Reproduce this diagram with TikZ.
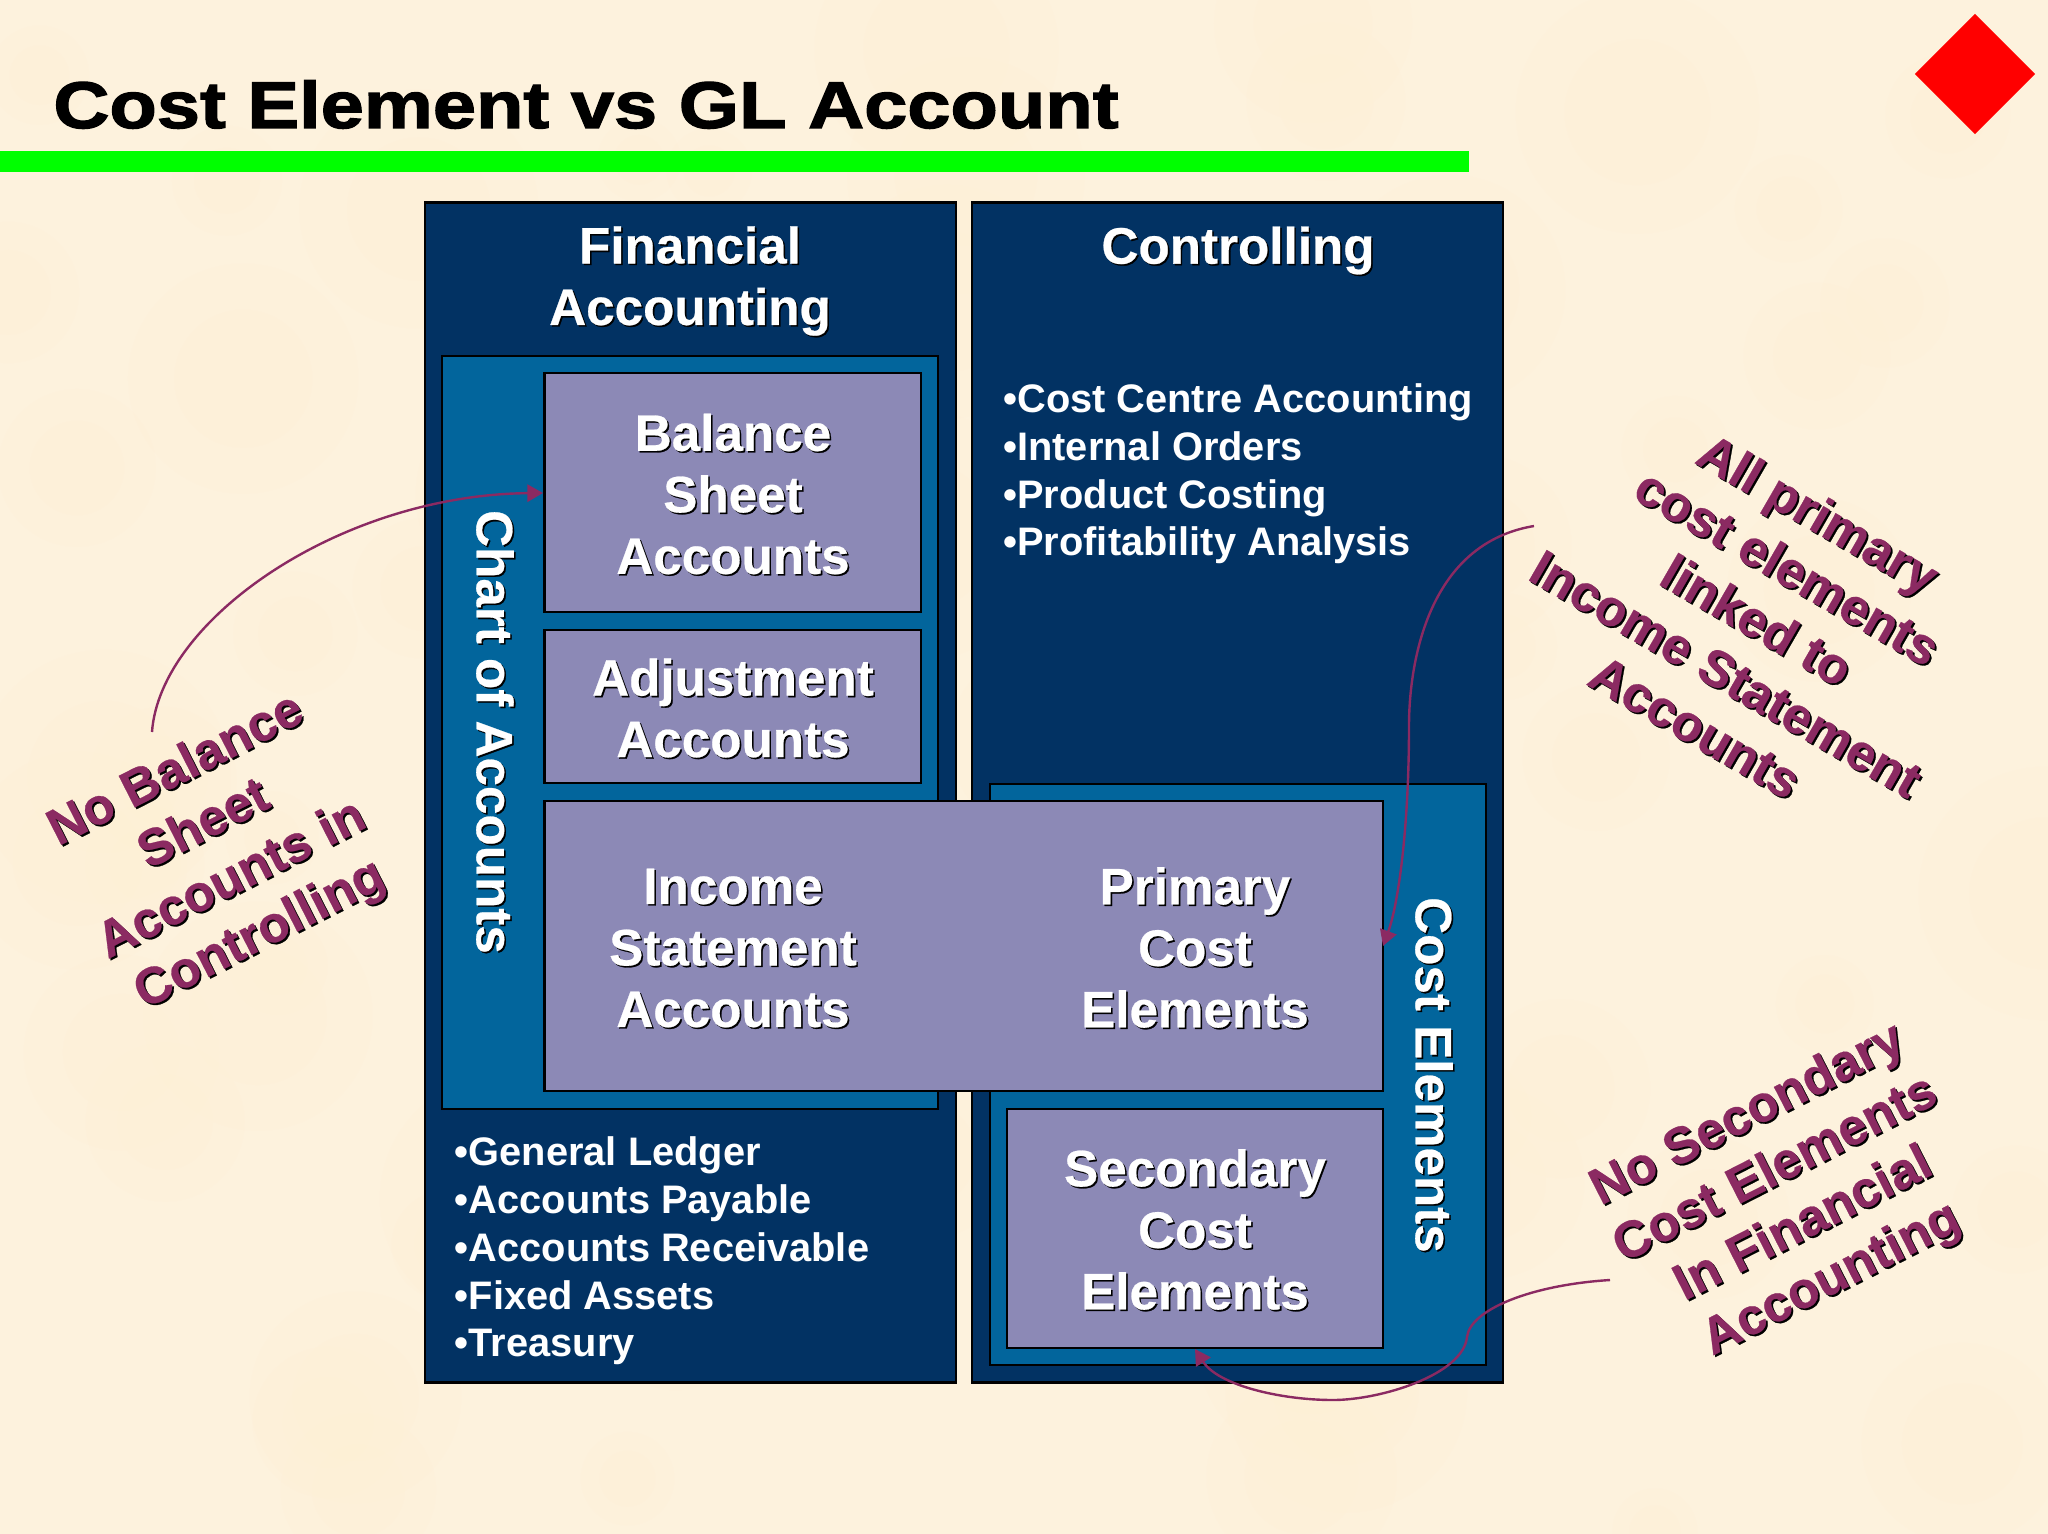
\documentclass[tikz,border=0pt]{standalone}
\usepackage{fontspec}
\setmainfont{Liberation Sans}
\usetikzlibrary{arrows.meta}
\definecolor{bgc}{HTML}{FDF2DD}
\definecolor{darkb}{HTML}{023263}
\definecolor{midb}{HTML}{02659C}
\definecolor{purp}{HTML}{8C89B6}
\definecolor{maroon}{HTML}{8B2A62}
\definecolor{grn}{HTML}{00FF00}
\newcommand{\shadowtext}[8]{% name,x,y,rot,color,shcolor,offset,text
  \node[lab,rotate=#4,text=#6] (#1s) at ({#2+#7},{#3+#7}) {#8};
  \node[lab,rotate=#4,text=#5] (#1) at (#2,#3) {#8};}
\tikzset{
  x=0.5pt,y=-0.5pt,
  panel/.style={draw=black,line width=1.1pt,fill=darkb},
  inner/.style={draw=black,line width=1.1pt,fill=midb},
  leaf/.style={draw=black,line width=1.1pt,fill=purp},
  lab/.style={inner sep=0,align=center,font=\fontsize{25.6pt}{30.75pt}\selectfont\bfseries\addfontfeatures{FakeBold=0.5}},
  blist/.style={inner sep=0,align=left,text=white,anchor=west,font=\fontsize{19.9pt}{23.85pt}\selectfont\bfseries},
  note/.style={draw=maroon,line width=1.2pt,-{Triangle[length=7.8pt,width=8.6pt]}}
}
\begin{document}
\begin{tikzpicture}
\useasboundingbox (0,0) rectangle (2048,1534);
\fill[bgc] (0,0) rectangle (2048,1534);
\pgfmathsetseed{7}
\foreach \i in {1,...,70}{
  \pgfmathsetmacro{\px}{rnd*2048}\pgfmathsetmacro{\py}{rnd*1534}
  \pgfmathsetmacro{\rr}{40+rnd*90}
  \fill[yellow!60!orange!25,opacity=.03] (\px,\py) circle (\rr);
  \fill[yellow!60!orange!25,opacity=.03] (\px,\py) circle (.6*\rr);
}
% title bar
\fill[grn] (0,151) rectangle (1469,172);
\node[inner sep=0,anchor=base west,font=\fontsize{33pt}{33pt}\selectfont\bfseries\addfontfeatures{FakeBold=2,FakeStretch=1.176}] (title) at (53,128) {Cost Element vs GL Account};
\node[fill=red,minimum size=0pt,inner sep=0,shape=rectangle,rotate=45,minimum width=42.5pt,minimum height=42.5pt] (logo) at (1975,74) {};
% panels
\draw[panel] (425,202.5) rectangle (956,1382.5);
\draw[panel] (972,202.5) rectangle (1503,1382.5);
\draw[inner] (442,356) rectangle (938,1109);
\draw[inner] (990,784) rectangle (1486,1365);
\draw[leaf] (544.5,373) rectangle (921,612);
\draw[leaf] (544.5,630) rectangle (921,783);
\draw[leaf] (544.5,801) rectangle (1383,1091);
\draw[leaf] (1007,1109) rectangle (1383,1348);
\coordinate (balin) at (543,493);
\coordinate (primin) at (1383,946);
\coordinate (secin) at (1195,1349);
% white labels
\shadowtext{fi}{690}{281}{0}{white}{black}{1.6}{Financial\\Accounting}
\shadowtext{co}{1238}{250.5}{0}{white}{black}{1.6}{Controlling}
\shadowtext{bs}{733}{494}{0}{white}{black}{1.6}{Balance\\Sheet\\Accounts}
\shadowtext{aa}{733}{708}{0}{white}{black}{1.6}{Adjustment\\Accounts}
\shadowtext{is}{733}{948}{0}{white}{black}{1.6}{Income\\Statement\\Accounts}
\shadowtext{pc}{1195}{947.5}{0}{white}{black}{1.6}{Primary\\Cost\\Elements}
\shadowtext{sc}{1195}{1229.5}{0}{white}{black}{1.6}{Secondary\\Cost\\Elements}
\shadowtext{ca}{495}{732}{-90}{white}{black}{1.6}{Chart of Accounts}
\shadowtext{ce}{1434}{1075}{-90}{white}{black}{1.6}{Cost Elements}
% lists
\node[blist] (colist) at (1003,474) {•Cost Centre Accounting\\•Internal Orders\\•Product Costing\\•Profitability Analysis};
\node[blist] (filist) at (454.5,1251) {•General Ledger\\•Accounts Payable\\•Accounts Receivable\\•Fixed Assets\\•Treasury};
% notes
\shadowtext{n1}{218.5}{853.5}{27}{maroon}{black}{1.8}{No Balance\\Sheet\\Accounts in\\Controlling}
\shadowtext{n2}{1757}{620}{-30}{maroon}{black}{1.8}{All primary\\cost elements\\linked to\\Income Statement\\Accounts}
\shadowtext{n3}{1790}{1198}{27}{maroon}{black}{1.8}{No Secondary\\Cost Elements\\In Financial\\Accounting}
\coordinate (n1e) at (152,732);
\coordinate (n2e) at (1534,526);
\coordinate (n3e) at (1610,1280);
\draw[note] (n1e) .. controls (160,620) and (340,495) .. (balin);
\draw[note] (n2e) .. controls (1420,545) and (1409,680) .. (1409,725) .. controls (1409,830) and (1398,905) .. (primin);
\draw[note] (n3e) .. controls (1530,1285) and (1470,1310) .. (1467,1337) .. controls (1463,1375) and (1380,1400) .. (1333,1400) .. controls (1280,1400) and (1218,1385) .. (secin);
\end{tikzpicture}
\end{document}
